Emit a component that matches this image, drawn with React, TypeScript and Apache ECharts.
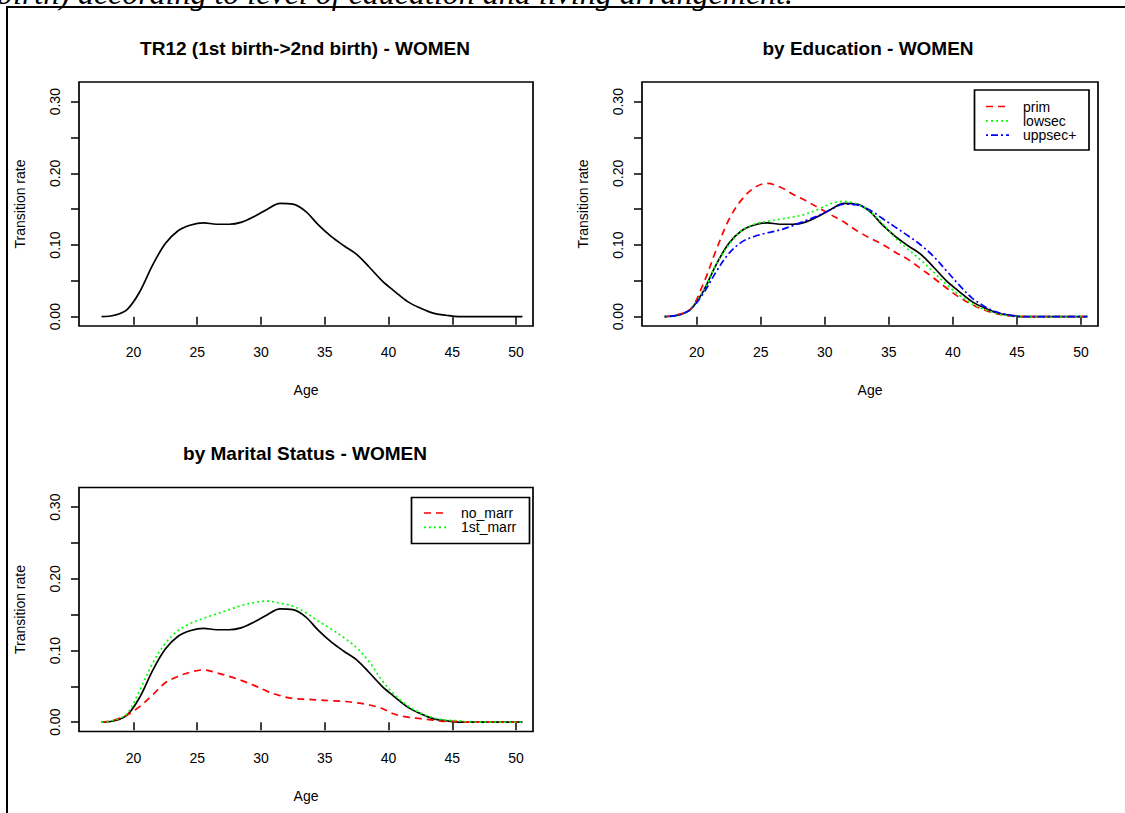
import { useEffect, useRef } from "react";
import * as echarts from "echarts";

// ---- data ----
const AGES = [
  17.5, 18.5, 19.5, 20.5, 21.5, 22.5, 23.5, 24.5, 25.5, 26.5, 27.5, 28.5,
  29.5, 30.5, 31.5, 32.5, 33.5, 34.5, 35.5, 36.5, 37.5, 38.5, 39.5, 40.5,
  41.5, 42.5, 43.5, 44.5, 45.5, 46.5, 47.5, 48.5, 49.5, 50.5,
];

const TOTAL = [
  0.0, 0.002, 0.01, 0.035, 0.072, 0.102, 0.12, 0.128, 0.131, 0.129, 0.129,
  0.132, 0.14, 0.15, 0.158, 0.157, 0.147, 0.128, 0.112, 0.099, 0.087, 0.069,
  0.05, 0.035, 0.021, 0.012, 0.005, 0.002, 0.0, 0, 0, 0, 0, 0,
];

const EDU_PRIM = [
  0.0, 0.003, 0.01, 0.045, 0.092, 0.135, 0.163, 0.18, 0.186, 0.181, 0.171,
  0.162, 0.152, 0.142, 0.132, 0.12, 0.11, 0.101, 0.09, 0.08, 0.067, 0.054,
  0.04, 0.027, 0.017, 0.009, 0.004, 0.001, 0, 0, 0, 0, 0, 0,
];

const EDU_LOWSEC = [
  0.0, 0.002, 0.01, 0.035, 0.072, 0.1, 0.12, 0.129, 0.133, 0.136, 0.139,
  0.143, 0.15, 0.158, 0.161, 0.157, 0.147, 0.13, 0.11, 0.094, 0.079, 0.062,
  0.045, 0.03, 0.018, 0.01, 0.004, 0.001, 0, 0, 0, 0, 0, 0,
];

const EDU_UPPSEC = [
  0.0, 0.002, 0.01, 0.032, 0.062, 0.088, 0.104, 0.112, 0.117, 0.121, 0.127,
  0.134, 0.141, 0.15, 0.157, 0.156, 0.149, 0.137, 0.125, 0.113, 0.1, 0.084,
  0.064, 0.044, 0.026, 0.014, 0.006, 0.002, 0, 0, 0, 0, 0, 0,
];

const MAR_NO = [
  0.0, 0.003, 0.01, 0.022, 0.038, 0.055, 0.064, 0.07, 0.073, 0.069, 0.064,
  0.058, 0.051, 0.043, 0.037, 0.033, 0.032, 0.031, 0.03, 0.029, 0.027, 0.024,
  0.019, 0.011, 0.007, 0.005, 0.003, 0.001, 0.001, 0, 0, 0, 0, 0,
];

const MAR_FIRST = [
  0.0, 0.003, 0.012, 0.045, 0.082, 0.11, 0.128, 0.138, 0.145, 0.151, 0.157,
  0.163, 0.167, 0.169, 0.166, 0.162, 0.153, 0.141, 0.13, 0.118, 0.104, 0.084,
  0.058, 0.038, 0.023, 0.013, 0.006, 0.003, 0.002, 0, 0, 0, 0, 0,
];

const X_TICKS = [20, 25, 30, 35, 40, 45, 50];
const Y_TICKS = [0, 0.05, 0.1, 0.15, 0.2, 0.25, 0.3];
const Y_LABELS = [0, 0.1, 0.2, 0.3];

const TITLES = [
  "TR12 (1st birth->2nd birth) - WOMEN",
  "by Education - WOMEN",
  "by Marital Status - WOMEN",
];
const EDU_NAMES = ["prim", "lowsec", "uppsec+"];
const MAR_NAMES = ["no_marr", "1st_marr"];
const CAPTION = "birth) according to level of education and living arrangement.";

// ---- styles ----
const SANS = "'Liberation Sans', Arial, sans-serif";
const RED = "#ff0000";
const GREEN = "#00ff00";
const BLUE = "#0000ff";
const DASH_RED = [7, 5];
const DASH_GREEN = [2, 3];
const DASH_BLUE = [2, 3, 7, 3];
const LW = 1.7;

const GRIDS = [
  { left: 79, top: 82, width: 454, height: 244 },
  { left: 642, top: 82, width: 456, height: 244 },
  { left: 79, top: 487.5, width: 454, height: 244 },
];

function pairs(v: number[]) {
  return AGES.map((a, i) => [a, v[i]]);
}

function lineSeries(name: string, data: number[], idx: number, color: string, dash: any) {
  return {
    type: "line",
    name,
    xAxisIndex: idx,
    yAxisIndex: idx,
    data: pairs(data),
    symbol: "none",
    showSymbol: false,
    smooth: 0.35,
    silent: true,
    lineStyle: { color, width: LW, type: dash },
  };
}

function legendBox(
  x: number,
  y: number,
  w: number,
  h: number,
  names: string[],
  colors: string[],
  dashes: number[][],
  lineX1: number,
  lineX2: number,
  textX: number,
  rowY0: number
) {
  const els: any[] = [
    {
      type: "rect",
      shape: { x, y, width: w, height: h },
      style: { fill: "#fff", stroke: "#000", lineWidth: 1.7 },
      z: 10,
    },
  ];
  names.forEach((n, i) => {
    const yy = rowY0 + i * 14.3;
    els.push({
      type: "line",
      shape: { x1: lineX1, y1: yy, x2: lineX2, y2: yy },
      style: { stroke: colors[i], lineWidth: LW, lineDash: dashes[i] },
      z: 11,
    });
    els.push({
      type: "text",
      x: textX,
      y: yy,
      style: {
        text: n,
        fill: "#000",
        font: `14px ${SANS}`,
        textAlign: "left",
        textVerticalAlign: "middle",
        verticalAlign: "middle",
      },
      z: 11,
    });
  });
  return els;
}

export default function App() {
  const ref = useRef<HTMLDivElement>(null);

  useEffect(() => {
    if (!ref.current) return;
    const chart = echarts.init(ref.current, undefined, { renderer: "svg" });

    const xAxes = GRIDS.map((_, i) => ({
      type: "value",
      gridIndex: i,
      min: 15.73,
      max: 51.33,
      axisLine: { show: false },
      splitLine: { show: false },
      axisTick: {
        show: true,
        inside: false,
        length: 8,
        lineStyle: { color: "#000", width: 1.5 },
        customValues: X_TICKS,
      },
      axisLabel: {
        show: true,
        customValues: X_TICKS,
        margin: 19,
        color: "#000",
        fontSize: 14,
        fontFamily: SANS,
        formatter: (v: number) => String(v),
      },
      name: "Age",
      nameLocation: "middle",
      nameGap: 57,
      nameTextStyle: { color: "#000", fontSize: 14, fontFamily: SANS },
    }));

    const yAxes = GRIDS.map((_, i) => ({
      type: "value",
      gridIndex: i,
      min: -0.013,
      max: 0.3275,
      axisLine: { show: false },
      splitLine: { show: false },
      axisTick: {
        show: true,
        inside: false,
        length: 8,
        lineStyle: { color: "#000", width: 1.5 },
        customValues: Y_TICKS,
      },
      axisLabel: {
        show: true,
        customValues: Y_LABELS,
        rotate: 90,
        margin: 17,
        color: "#000",
        fontSize: 14,
        fontFamily: SANS,
        formatter: (v: number) => v.toFixed(2),
      },
      name: "Transition rate",
      nameLocation: "middle",
      nameRotate: 90,
      nameGap: 52,
      nameTextStyle: { color: "#000", fontSize: 14, fontFamily: SANS },
    }));

    const titleCenters = [
      [305, 48],
      [868, 48],
      [305, 453.5],
    ];

    const graphics: any[] = [
      {
        type: "rect",
        shape: { x: 7, y: 7, width: 1130, height: 820 },
        style: { fill: "none", stroke: "#000", lineWidth: 2 },
        silent: true,
      },
      {
        type: "text",
        x: -3,
        y: -7,
        style: {
          text: CAPTION,
          fill: "#000",
          font: `italic 32px 'Liberation Serif', 'Times New Roman', serif`,
          textAlign: "left",
          textVerticalAlign: "middle",
          verticalAlign: "middle",
        },
      },
      ...TITLES.map((t, i) => ({
        type: "text",
        x: titleCenters[i][0],
        y: titleCenters[i][1],
        style: {
          text: t,
          fill: "#000",
          font: `bold 19px ${SANS}`,
          textAlign: "center",
          textVerticalAlign: "middle",
          verticalAlign: "middle",
        },
      })),
      ...legendBox(
        974.5, 90, 114.5, 60,
        EDU_NAMES, [RED, GREEN, BLUE], [DASH_RED, DASH_GREEN, DASH_BLUE],
        986, 1009, 1023, 106.5
      ),
      ...legendBox(
        411.5, 497.5, 118, 46,
        MAR_NAMES, [RED, GREEN], [DASH_RED, DASH_GREEN],
        424, 446, 461, 513
      ),
    ];

    chart.setOption({
      animation: false,
      backgroundColor: "#fff",
      grid: GRIDS.map((g) => ({
        ...g,
        show: true,
        borderColor: "#000",
        borderWidth: 1.7,
        backgroundColor: "transparent",
        containLabel: false,
      })),
      xAxis: xAxes,
      yAxis: yAxes,
      series: [
        lineSeries("Total", TOTAL, 0, "#000", "solid"),
        lineSeries("Total", TOTAL, 1, "#000", "solid"),
        lineSeries(EDU_NAMES[0], EDU_PRIM, 1, RED, DASH_RED),
        lineSeries(EDU_NAMES[1], EDU_LOWSEC, 1, GREEN, DASH_GREEN),
        lineSeries(EDU_NAMES[2], EDU_UPPSEC, 1, BLUE, DASH_BLUE),
        lineSeries("Total", TOTAL, 2, "#000", "solid"),
        lineSeries(MAR_NAMES[0], MAR_NO, 2, RED, DASH_RED),
        lineSeries(MAR_NAMES[1], MAR_FIRST, 2, GREEN, DASH_GREEN),
      ],
      graphic: graphics,
    });

    return () => chart.dispose();
  }, []);

  return (
    <div
      ref={ref}
      style={{ position: "absolute", left: 0, top: 0, width: 1125, height: 813 }}
    />
  );
}
